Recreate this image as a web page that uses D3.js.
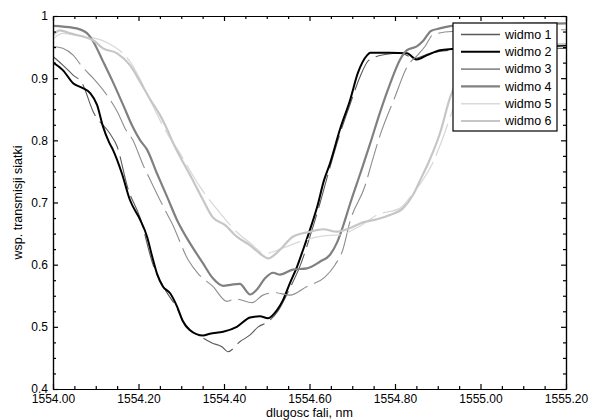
<!DOCTYPE html>
<html lang="pl">
<head>
  <meta charset="UTF-8">
  <title>Widma transmisji siatki</title>
  <style>
    body { margin: 0; background: #fff; }
    svg text { font-family: "Liberation Sans", Arial, sans-serif; fill: #000; }
    .axis path, .axis line { stroke: #000; stroke-width: 1.2; }
    .series { fill: none; stroke-linejoin: round; }
  </style>
  <script src="https://d3js.org/d3.v7.min.js"></script>
</head>
<body>
  <svg id="chart" width="590" height="420"></svg>
  <script>
    // dane
    const xTicks = [1554.0, 1554.2, 1554.4, 1554.6, 1554.8, 1555.0, 1555.2];
    const yTicks = [0.4, 0.5, 0.6, 0.7, 0.8, 0.9, 1.0];
    const seriesNames = ["widmo 1", "widmo 2", "widmo 3", "widmo 4", "widmo 5", "widmo 6"];

    const w1x = [1554.000, 1554.023, 1554.047, 1554.068, 1554.094, 1554.133, 1554.150, 1554.175, 1554.204, 1554.234,
      1554.262, 1554.290, 1554.309, 1554.344, 1554.372, 1554.395, 1554.409, 1554.437, 1554.461, 1554.480,
      1554.503, 1554.526, 1554.554, 1554.578, 1554.601, 1554.625, 1554.648, 1554.671, 1554.695, 1554.718,
      1554.739, 1554.777, 1554.812, 1554.847, 1554.882, 1554.933, 1555.200];
    const w1y = [0.935, 0.921, 0.905, 0.892, 0.846, 0.811, 0.790, 0.723, 0.675, 0.600,
      0.560, 0.530, 0.502, 0.485, 0.474, 0.468, 0.460, 0.476, 0.487, 0.500,
      0.508, 0.525, 0.562, 0.598, 0.645, 0.700, 0.757, 0.810, 0.858, 0.902,
      0.929, 0.938, 0.940, 0.932, 0.940, 0.945, 0.948];

    const w2x = [1554.000, 1554.023, 1554.047, 1554.070, 1554.087, 1554.103, 1554.117, 1554.131, 1554.140, 1554.161,
      1554.180, 1554.204, 1554.220, 1554.232, 1554.243, 1554.257, 1554.274, 1554.290, 1554.304, 1554.320,
      1554.351, 1554.367, 1554.398, 1554.430, 1554.461, 1554.484, 1554.503, 1554.524, 1554.538, 1554.554,
      1554.571, 1554.585, 1554.601, 1554.618, 1554.634, 1554.648, 1554.671, 1554.695, 1554.713, 1554.735,
      1554.742, 1554.788, 1554.828, 1554.851, 1554.875, 1554.905, 1554.933, 1555.046, 1555.200];
    const w2y = [0.925, 0.913, 0.892, 0.884, 0.876, 0.857, 0.822, 0.797, 0.785, 0.747,
      0.704, 0.672, 0.645, 0.613, 0.586, 0.565, 0.554, 0.533, 0.509, 0.495,
      0.486, 0.489, 0.492, 0.500, 0.515, 0.517, 0.514, 0.527, 0.543, 0.570,
      0.597, 0.624, 0.656, 0.693, 0.736, 0.763, 0.817, 0.865, 0.908, 0.937,
      0.941, 0.941, 0.940, 0.930, 0.937, 0.945, 0.947, 0.950, 0.952];

    const w3x = [1554.000, 1554.023, 1554.047, 1554.070, 1554.098, 1554.126, 1554.152, 1554.168, 1554.187, 1554.211,
      1554.220, 1554.262, 1554.278, 1554.316, 1554.339, 1554.374, 1554.407, 1554.426, 1554.466, 1554.491,
      1554.519, 1554.554, 1554.594, 1554.636, 1554.660, 1554.678, 1554.695, 1554.730, 1554.746, 1554.765,
      1554.800, 1554.828, 1554.854, 1554.870, 1554.889, 1554.933, 1555.200];
    const w3y = [0.951, 0.948, 0.937, 0.917, 0.897, 0.873, 0.844, 0.820, 0.800, 0.760,
      0.747, 0.688, 0.667, 0.608, 0.586, 0.565, 0.541, 0.545, 0.539, 0.551,
      0.555, 0.551, 0.565, 0.580, 0.600, 0.624, 0.670, 0.727, 0.765, 0.808,
      0.870, 0.918, 0.938, 0.951, 0.970, 0.975, 0.978];

    const w4x = [1554.000, 1554.023, 1554.056, 1554.080, 1554.094, 1554.117, 1554.140, 1554.164, 1554.187, 1554.204,
      1554.220, 1554.243, 1554.267, 1554.290, 1554.320, 1554.351, 1554.374, 1554.398, 1554.419, 1554.437,
      1554.461, 1554.477, 1554.496, 1554.515, 1554.531, 1554.561, 1554.594, 1554.625, 1554.648, 1554.664,
      1554.678, 1554.695, 1554.718, 1554.742, 1554.765, 1554.788, 1554.812, 1554.828, 1554.851, 1554.866,
      1554.884, 1554.905, 1554.933, 1554.999, 1555.200];
    const w4y = [0.984, 0.983, 0.980, 0.972, 0.959, 0.927, 0.894, 0.857, 0.821, 0.800,
      0.785, 0.747, 0.709, 0.672, 0.635, 0.602, 0.578, 0.566, 0.568, 0.569,
      0.552, 0.560, 0.578, 0.587, 0.584, 0.592, 0.594, 0.605, 0.616, 0.635,
      0.661, 0.698, 0.745, 0.795, 0.845, 0.890, 0.930, 0.945, 0.951, 0.960,
      0.976, 0.980, 0.984, 0.986, 0.988];

    const w5x = [1554.000, 1554.023, 1554.063, 1554.110, 1554.133, 1554.180, 1554.227, 1554.262, 1554.297, 1554.344,
      1554.391, 1554.426, 1554.461, 1554.496, 1554.538, 1554.578, 1554.629, 1554.671, 1554.718, 1554.758,
      1554.812, 1554.842, 1554.863, 1554.887, 1554.910, 1554.933, 1554.975, 1555.046, 1555.200];
    const w5y = [0.963, 0.972, 0.968, 0.962, 0.955, 0.927, 0.865, 0.817, 0.779, 0.725,
      0.683, 0.655, 0.635, 0.618, 0.627, 0.637, 0.646, 0.648, 0.662, 0.680,
      0.691, 0.715, 0.734, 0.762, 0.800, 0.845, 0.905, 0.940, 0.950];

    const w6x = [1554.000, 1554.016, 1554.040, 1554.070, 1554.094, 1554.117, 1554.150, 1554.180, 1554.204, 1554.227,
      1554.250, 1554.262, 1554.285, 1554.304, 1554.320, 1554.351, 1554.374, 1554.402, 1554.430, 1554.461,
      1554.484, 1554.503, 1554.531, 1554.561, 1554.601, 1554.632, 1554.664, 1554.695, 1554.725, 1554.758,
      1554.788, 1554.819, 1554.842, 1554.859, 1554.882, 1554.905, 1554.929, 1554.952, 1554.999, 1555.092,
      1555.200];
    const w6y = [0.969, 0.977, 0.972, 0.967, 0.961, 0.948, 0.940, 0.921, 0.894, 0.866,
      0.841, 0.825, 0.790, 0.765, 0.745, 0.704, 0.676, 0.664, 0.645, 0.631,
      0.618, 0.610, 0.624, 0.645, 0.653, 0.657, 0.653, 0.659, 0.668, 0.673,
      0.680, 0.691, 0.712, 0.736, 0.770, 0.811, 0.869, 0.905, 0.935, 0.950,
      0.955];

    const xs = [w1x, w2x, w3x, w4x, w5x, w6x];
    const ys = [w1y, w2y, w3y, w4y, w5y, w6y];
    const colors = ["#5a5a5a", "#000000", "#8e8e8e", "#808080", "#d9d9d9", "#c6c6c6"];
    const widths = [1.1, 2, 1.1, 2.2, 1.3, 2.2];
    const dashes = ["34,7", null, "34,7", null, "34,7", null];

    const svg = d3.select("svg#chart");
    const width = +svg.attr("width");
    const height = +svg.attr("height");
    const margins = { top: 16, right: 24, bottom: 31, left: 53 };
    const chartWidth = width - margins.left - margins.right;
    const chartHeight = height - margins.top - margins.bottom;

    const xScale = d3.scaleLinear().domain([1554.0, 1555.2]).range([0, chartWidth]);
    const yScale = d3.scaleLinear().domain([0.4, 1.0]).range([chartHeight, 0]);

    const xMinor = d3.range(0, 25).map(i => 1554 + i * 0.05).filter((d, i) => i % 4 !== 0);
    const yMinor = d3.range(0, 25).map(i => 0.4 + i * 0.025).filter((d, i) => i % 4 !== 0);

    const chartArea = svg.append("g")
      .attr("transform", `translate(${margins.left},${margins.top})`);

    // linie widm
    const line = d3.line()
      .x(d => xScale(d[0]))
      .y(d => yScale(d[1]))
      .curve(d3.curveMonotoneX);

    const clip = chartArea.append("clipPath").attr("id", "plotclip")
      .append("rect").attr("width", chartWidth).attr("height", chartHeight);

    seriesNames.forEach((name, i) => {
      const pts = xs[i].map((x, j) => [x, ys[i][j]]);
      chartArea.append("path")
        .attr("class", "series")
        .attr("clip-path", "url(#plotclip)")
        .attr("d", line(pts))
        .attr("stroke", colors[i])
        .attr("stroke-width", widths[i])
        .attr("stroke-dasharray", dashes[i]);
    });

    // osie z podzialka do srodka
    const bottomAxis = d3.axisBottom(xScale).tickValues(xTicks)
      .tickFormat(d => d.toFixed(2)).tickSize(-5).tickSizeOuter(0).tickPadding(5);
    chartArea.append("g").attr("class", "x axis")
      .attr("transform", `translate(0,${chartHeight})`)
      .call(bottomAxis);
    chartArea.append("g").attr("class", "x axis minor")
      .attr("transform", `translate(0,${chartHeight})`)
      .call(d3.axisBottom(xScale).tickValues(xMinor).tickFormat("").tickSize(-3).tickSizeOuter(0));

    chartArea.append("g").attr("class", "x axis")
      .call(d3.axisTop(xScale).tickValues(xTicks).tickFormat("").tickSize(-5).tickSizeOuter(0));
    chartArea.append("g").attr("class", "x axis minor")
      .call(d3.axisTop(xScale).tickValues(xMinor).tickFormat("").tickSize(-3).tickSizeOuter(0));

    const leftAxis = d3.axisLeft(yScale).tickValues(yTicks)
      .tickFormat(d => d === 1 ? "1" : d.toFixed(1)).tickSize(-5).tickSizeOuter(0).tickPadding(5);
    chartArea.append("g").attr("class", "y axis").call(leftAxis);
    chartArea.append("g").attr("class", "y axis minor")
      .call(d3.axisLeft(yScale).tickValues(yMinor).tickFormat("").tickSize(-3).tickSizeOuter(0));

    chartArea.append("g").attr("class", "y axis")
      .attr("transform", `translate(${chartWidth},0)`)
      .call(d3.axisRight(yScale).tickValues(yTicks).tickFormat("").tickSize(-5).tickSizeOuter(0));
    chartArea.append("g").attr("class", "y axis minor")
      .attr("transform", `translate(${chartWidth},0)`)
      .call(d3.axisRight(yScale).tickValues(yMinor).tickFormat("").tickSize(-3).tickSizeOuter(0));

    svg.selectAll(".axis text").style("font-size", "12px").attr("fill", "#000");

    // legenda
    const legend = chartArea.append("g")
      .attr("transform", `translate(${chartWidth - 113},7)`);
    legend.append("rect")
      .attr("width", 104).attr("height", 108)
      .attr("fill", "#fff").attr("stroke", "#000").attr("stroke-width", 1.2);
    seriesNames.forEach((name, i) => {
      const yy = 11.5 + i * 17.3;
      legend.append("line")
        .attr("x1", 8).attr("x2", 47).attr("y1", yy).attr("y2", yy)
        .attr("stroke", colors[i]).attr("stroke-width", Math.max(widths[i], 1.6));
      legend.append("text")
        .attr("x", 52).attr("y", yy).attr("dy", "0.35em")
        .style("font-size", "12.5px")
        .text(name);
    });

    // opisy osi
    svg.append("text")
      .attr("x", margins.left + chartWidth / 2)
      .attr("y", 417)
      .attr("text-anchor", "middle")
      .style("font-size", "12.5px")
      .text("dlugosc fali, nm");

    svg.append("text")
      .attr("x", -(margins.top + chartHeight / 2))
      .attr("y", 22)
      .attr("transform", "rotate(-90)")
      .attr("text-anchor", "middle")
      .style("font-size", "12.5px")
      .text("wsp. transmisji siatki");
  </script>
</body>
</html>
